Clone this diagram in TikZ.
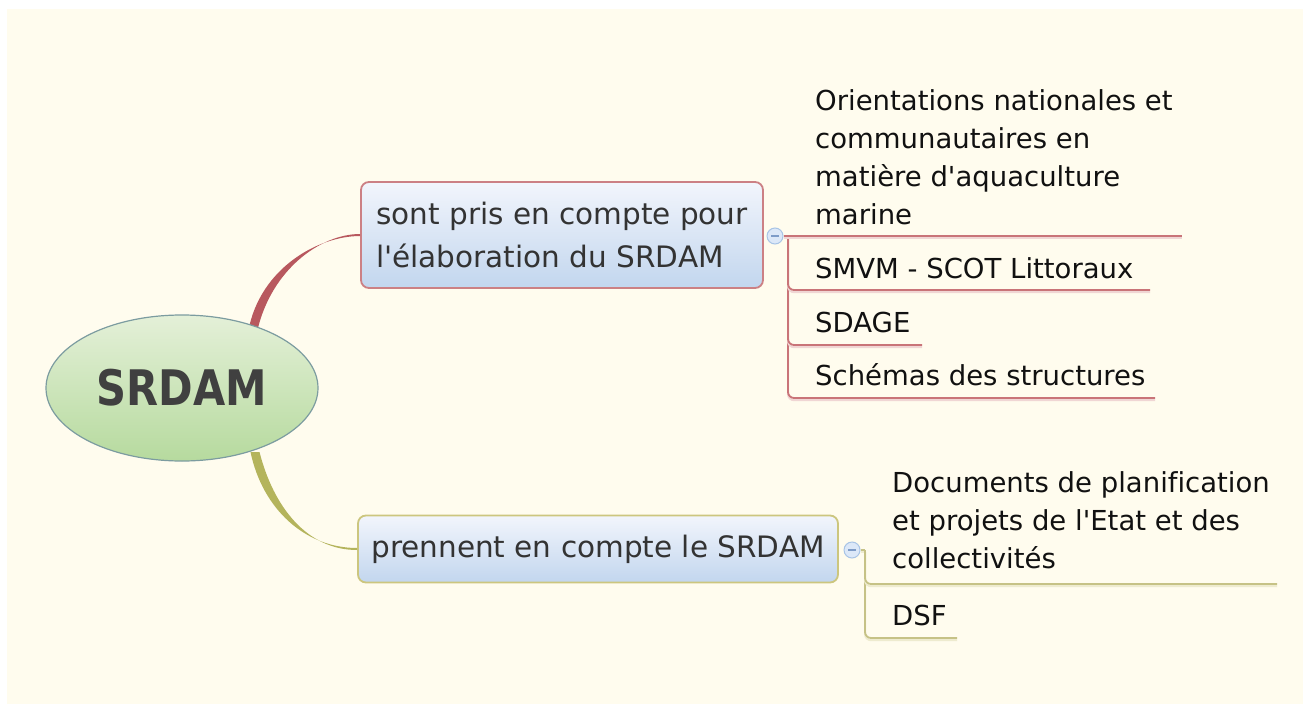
\documentclass[tikz,border=0pt]{standalone}
\usepackage{fontspec}
\setmainfont{DejaVu Sans}[Ligatures={TeXOff,NoCommon}]
\newfontfamily\titlefont{DejaVu Sans}[FakeStretch=0.85]
\usetikzlibrary{shapes.geometric,calc}
\definecolor{bgcol}{HTML}{FFFCEE}
\definecolor{redc}{HTML}{B8585E}
\definecolor{redline}{HTML}{C97478}
\definecolor{redshadow}{HTML}{F0D6D4}
\definecolor{olivec}{HTML}{B4B45C}
\definecolor{oliveline}{HTML}{C6C286}
\definecolor{oliveshadow}{HTML}{EEEBCF}
\definecolor{boxtop}{HTML}{F2F5FC}
\definecolor{boxbot}{HTML}{C2D6EE}
\definecolor{redborder}{HTML}{CC8084}
\definecolor{oliveborder}{HTML}{CCC67E}
\definecolor{elltop}{HTML}{E4F0D8}
\definecolor{ellbot}{HTML}{B6DA9E}
\definecolor{ellborder}{HTML}{7C9CA0}
\definecolor{circfill}{HTML}{DCE8F8}
\definecolor{circborder}{HTML}{A8C4E6}
\definecolor{circminus}{HTML}{7E9CC8}
\definecolor{boxtext}{HTML}{333333}
\definecolor{childtextcol}{HTML}{111111}
\begin{document}
\begin{tikzpicture}[x=1pt,y=-1pt,
  rootnode/.style={ellipse, minimum width=272pt, minimum height=146pt, draw=ellborder, line width=1.2pt,
     top color=elltop, bottom color=ellbot, inner sep=0pt,
     font=\titlefont\bfseries\fontsize{49}{49}\selectfont, text=black!75},
  topic/.style={rectangle, rounded corners=8pt, line width=1.8pt, top color=boxtop, bottom color=boxbot,
     align=left, inner sep=0pt, text=boxtext, font=\fontsize{29.5}{43}\selectfont},
  collapse/.style={circle, minimum size=16pt, inner sep=0pt, fill=circfill, draw=circborder, line width=1pt},
  childtext/.style={anchor=base west, inner sep=0pt, align=left, text=childtextcol,
     font=\fontsize{27.5}{38}\selectfont},
  redl/.style={draw=redline, line width=1.8pt, preaction={draw=redshadow, line width=2pt, transform canvas={yshift=-2.2pt}}},
  olivel/.style={draw=oliveline, line width=1.8pt, preaction={draw=oliveshadow, line width=2pt, transform canvas={yshift=-2.2pt}}}
]
\path[use as bounding box] (0,0) rectangle (1303,704);
\fill[bgcol] (7,9) rectangle (1303,704);

% main connectors (tapered), drawn behind the root
\coordinate (s1) at (253,330);
\coordinate (s2) at (255,452);
\node[topic, draw=redborder, minimum width=402pt, minimum height=106pt] (b1) at (562,235)
  {sont pris en compte pour\\l'élaboration du SRDAM};
\node[topic, draw=oliveborder, minimum width=480pt, minimum height=67pt] (b2) at (598,549)
  {\raisebox{-3pt}{prennent en compte le SRDAM}};

\fill[redc] ([xshift=-4.5pt]s1) .. controls +(12,-62) and +(-42,0) .. ([yshift=-1pt]b1.west)
  -- ([yshift=1pt]b1.west) .. controls +(-40,0) and +(14,-60) .. ([xshift=4.5pt]s1) -- cycle;
\fill[olivec] ([xshift=-4.5pt]s2) .. controls +(12,57) and +(-52,0) .. ([yshift=1pt]b2.west)
  -- ([yshift=-1pt]b2.west) .. controls +(-50,0) and +(14,55) .. ([xshift=4.5pt]s2) -- cycle;

% root
\node[rootnode] (root) at (182,388) {SRDAM};

% collapse markers
\node[collapse] (c1) at (775,236) {};
\draw[circminus, line width=1.2pt] ([xshift=-4pt]c1.center) -- ([xshift=4pt]c1.center);
\node[collapse] (c2) at (852,550) {};
\draw[circminus, line width=1.2pt] ([xshift=-4pt]c2.center) -- ([xshift=4pt]c2.center);

% children of b1
\coordinate (j1) at (788,236);
\coordinate (u1) at (1182,236);
\coordinate (u2) at (1150,290);
\coordinate (u3) at (922,345);
\coordinate (u4) at (1155,398);
\draw[redl, rounded corners=6pt] (j1) |- (u4);
\draw[redl, rounded corners=6pt] (j1) |- (u3);
\draw[redl, rounded corners=6pt] (j1) |- (u2);
\draw[redl] (c1.east) -- (u1);

\node[childtext] (t1) at (815,224) {Orientations nationales et\\communautaires en\\matière d'aquaculture\\marine};
\node[childtext] (t2) at (815,278) {SMVM - SCOT Littoraux};
\node[childtext] (t3) at (815,332) {SDAGE};
\node[childtext] (t4) at (815,385) {Schémas des structures};

% children of b2
\coordinate (j2) at (865,550);
\coordinate (u5) at (1277,584);
\coordinate (u6) at (957,638);
\draw[olivel] (c2.east) -- (j2);
\draw[olivel, rounded corners=6pt] (j2) |- (u6);
\draw[olivel, rounded corners=6pt] (j2) |- (u5);

\node[childtext] (t5) at (892,568) {Documents de planification\\et projets de l'Etat et des\\collectivités};
\node[childtext] (t6) at (892,625) {DSF};
\end{tikzpicture}
\end{document}
